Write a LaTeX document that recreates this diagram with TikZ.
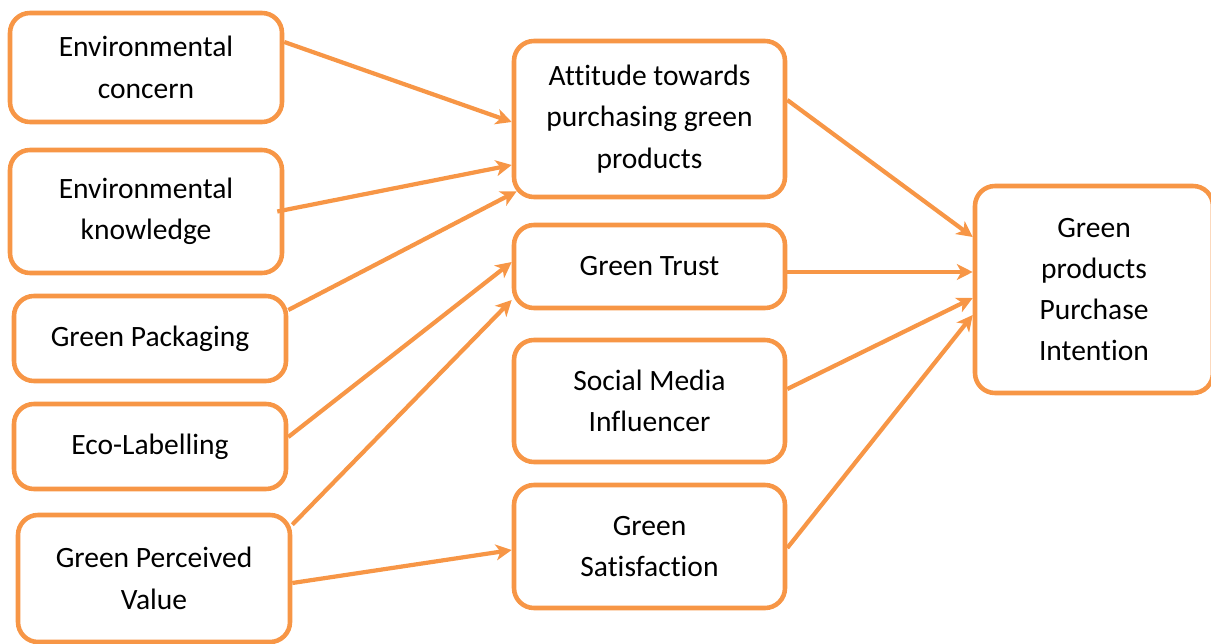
\documentclass[tikz,border=0pt]{standalone}
\usepackage{fontspec}
\setmainfont[Ligatures=NoCommon]{Carlito}
\usetikzlibrary{arrows.meta,positioning}
\definecolor{peach}{RGB}{247,150,70}

\tikzset{
  factor/.style={draw=peach,line width=2.6pt,rounded corners=0.4cm,fill=white,
    align=center,font=\fontsize{16.8}{23.5}\selectfont,inner sep=2pt},
  link/.style={draw=peach,line width=2.4pt,-{Stealth[length=9pt,width=9pt,inset=2.5pt]}}
}

\begin{document}
\begin{tikzpicture}
    \useasboundingbox (0,0) rectangle (24.22,-12.88);
    % left column: antecedents
    \foreach \n/\x/\y/\h/\t in {
      ec/2.92/-1.35/2.18/Environmental\\concern,
      ek/2.92/-4.23/2.46/Environmental\\knowledge,
      gp/3.00/-6.77/1.70/Green Packaging,
      el/3.00/-8.93/1.70/Eco-Labelling,
      gpv/3.08/-11.57/2.54/Green Perceived\\Value}
    {
      \node[factor,minimum width=5.44cm,minimum height=\h cm] (\n) at (\x,\y) {\t};
    }
    % middle column: mediators
    \foreach \n/\y/\h/\t in {
      att/-2.38/3.12/Attitude towards\\purchasing green\\products,
      gt/-5.33/1.66/Green Trust,
      smi/-8.02/2.44/Social Media\\Influencer,
      gs/-10.93/2.46/Green\\Satisfaction}
    {
      \node[factor,minimum width=5.42cm,minimum height=\h cm] (\n) at (12.99,\y) {\t};
    }
    % outcome
    \node[factor,minimum width=4.76cm,minimum height=4.14cm] (gppi) at (21.88,-5.79)
      {Green\\products\\Purchase\\Intention};

    % paths into the mediators
    \draw[link] ([yshift=0.51cm]ec.east) -- ([yshift=-0.06cm]att.west);
    \draw[link] ([xshift=-0.14cm]ek.east) -- ([yshift=-0.92cm]att.west);
    \draw[link] ([yshift=0.57cm]gp.east) -- ([shift={(0.1cm,0.16cm)}]att.south west);
    \draw[link] ([yshift=0.19cm]el.east) -- ([yshift=0.09cm]gt.west);
    \draw[link] ([yshift=-0.24cm]gpv.north east) -- ([yshift=-0.67cm]gt.west);
    \draw[link] ([yshift=-0.09cm]gpv.east) -- ([yshift=-0.07cm]gs.west);

    % paths into purchase intention
    \draw[link] ([yshift=0.38cm]att.east) -- ([yshift=1.05cm]gppi.west);
    \draw[link] ([yshift=-0.11cm]gt.east) -- ([yshift=-0.11cm]gt.east -| gppi.west);
    \draw[link] ([yshift=0.24cm]smi.east) -- ([yshift=-0.17cm]gppi.west);
    \draw[link] ([yshift=-0.03cm]gs.east) -- ([yshift=-0.51cm]gppi.west);
\end{tikzpicture}
\end{document}
